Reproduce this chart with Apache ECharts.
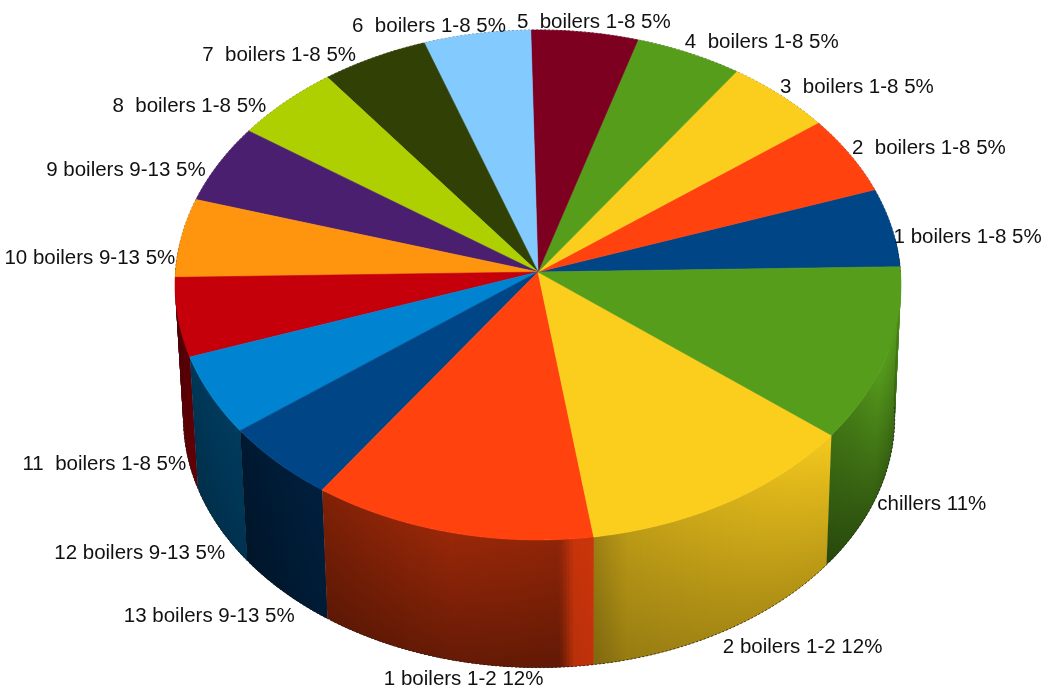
<!DOCTYPE html>
<html>
<head>
<meta charset="utf-8">
<style>html,body{margin:0;padding:0;background:#fff}#chart{width:1048px;height:691px}</style>
<script src="https://cdn.jsdelivr.net/npm/echarts@6/dist/echarts.min.js"></script>
</head>
<body>
<div id="chart"></div>
<script>
// Slices run counter-clockwise from three o'clock.
const sliceNames = [
  '1 boilers 1-8', '2  boilers 1-8', '3  boilers 1-8', '4  boilers 1-8', '5  boilers 1-8',
  '6  boilers 1-8', '7  boilers 1-8', '8  boilers 1-8', '9 boilers 9-13', '10 boilers 9-13',
  '11  boilers 1-8', '12 boilers 9-13', '13 boilers 9-13', '1 boilers 1-2', '2 boilers 1-2', 'chillers'
];
const shares = [5, 5, 5, 5, 5, 5, 5, 5, 5, 5, 5, 5, 5, 12, 12, 11];
const sliceColors = [
  '#004586', '#ff420e', '#fbce1e', '#579d1c', '#7e0021', '#83caff', '#314004', '#aecf00',
  '#4b1f6f', '#ff950e', '#c5000b', '#0084d1', '#004586', '#ff420e', '#fbce1e', '#579d1c'
];

// Disc geometry: a perspective view of a circle, with a slightly smaller base below it.
const disc = { cx: 538, cy: 272, rx: 362.5, ry: 254.3, persp: 0.051, startAngle: 1.2 };
const base = { cx: 539, scale: 0.98, drop: 133 };

// Label placement relative to the rim point at each slice's middle angle.
const labelAlign = ['left','left','left','left','center','right','right','right','right','right','right','right','right','center','left','left'];
const labelShiftX = [2, 2, 0, -4, 9, 29, -18, -19, -13, -6, 0, 7, 11, 10, -2, -4];
const labelShiftY = [10, -6, -8, -11, -10, -7.5, -2.5, 4, 7, 21, 15, 28, 25, 19, 16.5, 19];

// Side-wall lighting per slice: [position left to right, top brightness, bottom brightness].
const wallLight = {
  10: [[0, .30, .45], [1, .45, .50]],
  11: [[0, .42, .35], [1, .45, .38]],
  12: [[0, .36, .30], [1, .46, .40]],
  13: [[0, .50, .36], [.5, .60, .40], [.88, .56, .38], [.93, .78, .72], [1, .80, .75]],
  14: [[0, .62, .50], [.12, .75, .60], [.5, .85, .66], [1, .98, .74]],
  15: [[0, .72, .45], [.15, .80, .50], [.4, 1, .58], [1, 1, .62]]
};

const total = shares.reduce((a, b) => a + b, 0);
const edges = [disc.startAngle];
shares.forEach(v => edges.push(edges[edges.length - 1] + v / total * 360));

function topPoint(deg) {
  const a = deg * Math.PI / 180, s = -Math.sin(a), c = Math.cos(a);
  const d = 1 - disc.persp * s;
  return [disc.cx + disc.rx * c / d, disc.cy + disc.ry * s / d];
}
function basePoint(deg) {
  const p = topPoint(deg);
  return [base.cx + (p[0] - disc.cx) * base.scale, disc.cy + (p[1] - disc.cy) * base.scale + base.drop];
}
function arc(from, to, fn) {
  const pts = [], n = Math.max(2, Math.ceil(Math.abs(to - from)));
  for (let i = 0; i <= n; i++) pts.push(fn(from + (to - from) * i / n));
  return pts;
}
function shade(hex, f) {
  const n = parseInt(hex.slice(1), 16);
  const ch = s => Math.round(((n >> s) & 255) * f);
  return 'rgb(' + ch(16) + ',' + ch(8) + ',' + ch(0) + ')';
}
function lightAt(i, t) {
  const stops = wallLight[i] || [[0, .45, .35], [1, .45, .35]];
  for (let k = 1; k < stops.length; k++) {
    if (t <= stops[k][0]) {
      const a = stops[k - 1], b = stops[k], u = (t - a[0]) / (b[0] - a[0]);
      return [a[1] + (b[1] - a[1]) * u, a[2] + (b[2] - a[2]) * u];
    }
  }
  const last = stops[stops.length - 1];
  return [last[1], last[2]];
}

function renderWall(params) {
  const i = params.dataIndex, from = edges[i], to = edges[i + 1], children = [];
  const step = 0.5;
  for (let d = from; d < to; d += step) {
    const end = Math.min(d + step + 1, to);
    if (Math.sin(d * Math.PI / 180) > 0.12) continue;
    const l = lightAt(i, (d + step / 2 - from) / (to - from));
    const tp = arc(d, end, topPoint), bp = arc(end, d, basePoint);
    children.push({
      type: 'polygon',
      shape: { points: tp.concat(bp) },
      style: {
        fill: new echarts.graphic.LinearGradient(0, 0, 0, 1, [
          { offset: 0, color: shade(sliceColors[i], l[0]) },
          { offset: 1, color: shade(sliceColors[i], l[1]) }
        ])
      }
    });
  }
  return { type: 'group', children };
}
function renderFace(params) {
  const i = params.dataIndex;
  return {
    type: 'polygon',
    shape: { points: [[disc.cx, disc.cy]].concat(arc(edges[i], edges[i + 1], topPoint)) },
    style: { fill: sliceColors[i], stroke: sliceColors[i], lineWidth: 0.6 }
  };
}
function renderLabel(params) {
  const i = params.dataIndex, mid = (edges[i] + edges[i + 1]) / 2;
  const onNearSide = Math.sin(mid * Math.PI / 180) < 0;
  const p = onNearSide ? basePoint(mid) : topPoint(mid);
  return {
    type: 'text',
    style: {
      x: p[0] + labelShiftX[i], y: p[1] + labelShiftY[i],
      text: sliceNames[i] + ' ' + shares[i] + '%',
      align: labelAlign[i], verticalAlign: 'middle',
      fill: '#111', font: '20.5px "Liberation Sans", Arial, sans-serif'
    }
  };
}
function renderRim(params) {
  const line = params.dataIndex === 0 ? arc(0, 180, topPoint) : arc(180, 360, basePoint);
  return {
    type: 'polyline',
    shape: { points: line },
    style: { fill: 'none', stroke: '#222', lineWidth: 1, lineDash: [2, 2], opacity: 0.8 }
  };
}

const sliceData = shares.map((v, i) => [v, i]);
const chart = echarts.init(document.getElementById('chart'), null, { renderer: 'canvas' });
chart.setOption({
  animation: false,
  backgroundColor: '#fff',
  series: [
    { type: 'custom', coordinateSystem: 'none', silent: true, data: sliceData, renderItem: renderWall, z: 1 },
    { type: 'custom', coordinateSystem: 'none', silent: true, data: [[0], [1]], renderItem: renderRim, z: 2 },
    { type: 'custom', coordinateSystem: 'none', silent: true, data: sliceData, renderItem: renderFace, z: 3 },
    { type: 'custom', coordinateSystem: 'none', silent: true, data: sliceData, renderItem: renderLabel, z: 4 }
  ]
});
</script>
</body>
</html>
